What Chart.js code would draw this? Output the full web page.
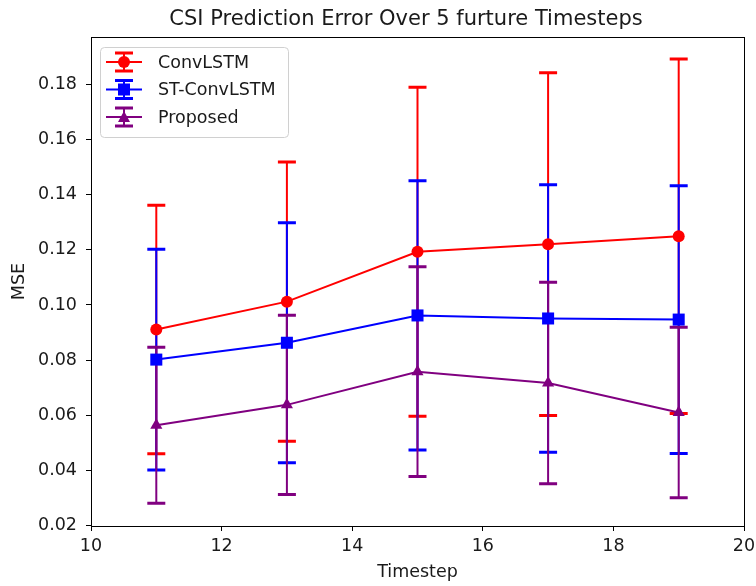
<!DOCTYPE html>
<html>
<head>
<meta charset="utf-8">
<title>CSI Prediction Error</title>
<script src="https://cdn.jsdelivr.net/npm/chart.js@4.4.0/dist/chart.umd.min.js"></script>
<style>
  body { margin: 0; background: #fff; }
  canvas { display: block; }
</style>
</head>
<body>
<canvas id="grafica" width="756" height="586"></canvas>
<script>
const timesteps = [11, 13, 15, 17, 19];
const convLstm = [0.0911, 0.1012, 0.1193, 0.1220, 0.1249];
const convLstmErr = [0.0450, 0.0506, 0.0596, 0.0621, 0.0642];
const stConvLstm = [0.0802, 0.0863, 0.0962, 0.0951, 0.0947];
const stConvLstmErr = [0.0400, 0.0435, 0.0488, 0.0485, 0.0485];
const proposed = [0.0564, 0.0638, 0.0758, 0.0717, 0.0610];
const proposedErr = [0.0283, 0.0325, 0.0380, 0.0365, 0.0309];
const xTicks = [10, 12, 14, 16, 18, 20];
const yTicks = [0.02, 0.04, 0.06, 0.08, 0.10, 0.12, 0.14, 0.16, 0.18];
const titulo = "CSI Prediction Error Over 5 furture Timesteps";

const fuente = "DejaVu Sans";
Chart.defaults.font.family = fuente;
Chart.defaults.color = "#1a1a1a";

function serie(label, valores, errores, color, marcador, radio) {
  return {
    label,
    data: timesteps.map((t, i) => ({ x: t, y: valores[i] })),
    errores,
    borderColor: color,
    backgroundColor: color,
    borderWidth: 2,
    tension: 0,
    pointStyle: marcador,
    pointRadius: radio,
    pointHoverRadius: radio,
    pointBorderWidth: 0,
    pointBackgroundColor: color,
    fill: false
  };
}

// barras de error debajo de las lineas, en el orden de las series
const barrasError = {
  id: "barrasError",
  beforeDatasetsDraw(chart) {
    const ctx = chart.ctx;
    const sx = chart.scales.x;
    const sy = chart.scales.y;
    chart.data.datasets.forEach(ds => {
      ctx.save();
      ctx.strokeStyle = ds.borderColor;
      ds.data.forEach((p, i) => {
        const px = sx.getPixelForValue(p.x);
        const arriba = sy.getPixelForValue(p.y + ds.errores[i]);
        const abajo = sy.getPixelForValue(p.y - ds.errores[i]);
        ctx.lineWidth = 2;
        ctx.beginPath();
        ctx.moveTo(px, arriba);
        ctx.lineTo(px, abajo);
        ctx.stroke();
        ctx.lineWidth = 3;
        ctx.beginPath();
        ctx.moveTo(px - 9, arriba);
        ctx.lineTo(px + 9, arriba);
        ctx.moveTo(px - 9, abajo);
        ctx.lineTo(px + 9, abajo);
        ctx.stroke();
      });
      ctx.restore();
    });
  }
};

function dibujarMarcador(ctx, estilo, x, y) {
  ctx.beginPath();
  if (estilo === "circle") {
    ctx.arc(x, y, 6, 0, Math.PI * 2);
  } else if (estilo === "rect") {
    ctx.rect(x - 6, y - 6, 12, 12);
  } else {
    ctx.moveTo(x, y - 6);
    ctx.lineTo(x + 6, y + 5);
    ctx.lineTo(x - 6, y + 5);
    ctx.closePath();
  }
  ctx.fill();
}

// marco, titulo y leyenda al estilo matplotlib
const adornos = {
  id: "adornos",
  afterDraw(chart) {
    const ctx = chart.ctx;
    const area = chart.chartArea;
    ctx.save();
    ctx.strokeStyle = "#000";
    ctx.lineWidth = 1;
    ctx.strokeRect(Math.round(area.left) + 0.5, Math.round(area.top) + 0.5,
      Math.round(area.right - area.left), Math.round(area.bottom - area.top));

    ctx.fillStyle = "#1a1a1a";
    ctx.font = "21px '" + fuente + "'";
    ctx.textAlign = "center";
    ctx.textBaseline = "alphabetic";
    ctx.fillText(titulo, 406, 25);

    const lx = area.left + 9, ly = area.top + 10;
    ctx.fillStyle = "rgba(255,255,255,0.8)";
    ctx.strokeStyle = "#d0d0d0";
    ctx.beginPath();
    ctx.roundRect(lx + 0.5, ly + 0.5, 188, 90, 4);
    ctx.fill();
    ctx.stroke();

    ctx.font = "17.5px '" + fuente + "'";
    ctx.textAlign = "left";
    ctx.textBaseline = "middle";
    chart.data.datasets.forEach((ds, i) => {
      const cy = ly + 15 + i * 27.5;
      const cx = lx + 24;
      ctx.strokeStyle = ds.borderColor;
      ctx.fillStyle = ds.borderColor;
      ctx.lineWidth = 2;
      ctx.beginPath();
      ctx.moveTo(cx - 18, cy);
      ctx.lineTo(cx + 18, cy);
      ctx.moveTo(cx, cy - 9);
      ctx.lineTo(cx, cy + 9);
      ctx.stroke();
      ctx.lineWidth = 3;
      ctx.beginPath();
      ctx.moveTo(cx - 9, cy - 9);
      ctx.lineTo(cx + 9, cy - 9);
      ctx.moveTo(cx - 9, cy + 9);
      ctx.lineTo(cx + 9, cy + 9);
      ctx.stroke();
      dibujarMarcador(ctx, ds.pointStyle, cx, cy);
      ctx.fillStyle = "#1a1a1a";
      ctx.fillText(ds.label, lx + 58, cy + 1);
    });
    ctx.restore();
  }
};

const tickFont = { family: fuente, size: 17.5 };
const rejilla = { display: true, drawOnChartArea: false, drawTicks: true, tickLength: 5, color: "#000", lineWidth: 1 };
const borde = { display: true, color: "#000", width: 1 };

new Chart(document.getElementById("grafica").getContext("2d"), {
  type: "line",
  data: {
    datasets: [
      serie("ConvLSTM", convLstm, convLstmErr, "#ff0000", "circle", 6),
      serie("ST-ConvLSTM", stConvLstm, stConvLstmErr, "#0000ff", "rect", 8.5),
      serie("Proposed", proposed, proposedErr, "#800080", "triangle", 7)
    ]
  },
  options: {
    responsive: false,
    animation: false,
    layout: { padding: { top: 37, right: 12, left: 0, bottom: 0 } },
    plugins: {
      legend: { display: false },
      tooltip: { enabled: false },
      title: { display: false }
    },
    scales: {
      x: {
        type: "linear",
        position: "bottom",
        min: 10,
        max: 20,
        afterBuildTicks: s => { s.ticks = xTicks.map(v => ({ value: v })); },
        afterFit: s => { s.height = 60; s.paddingLeft = 0; s.paddingRight = 0; },
        ticks: { font: tickFont, padding: 5, maxRotation: 0, callback: v => String(v) },
        grid: rejilla,
        border: borde,
        title: { display: true, text: "Timestep", font: tickFont, padding: { top: 0, bottom: 3.5 } }
      },
      y: {
        type: "linear",
        min: 0.0199,
        max: 0.1971,
        afterBuildTicks: s => { s.ticks = yTicks.map(v => ({ value: v })); },
        afterFit: s => { s.width = 91; s.paddingTop = 0; s.paddingBottom = 0; },
        ticks: { font: tickFont, padding: 9, callback: v => v.toFixed(2) },
        grid: rejilla,
        border: borde,
        title: { display: true, text: "MSE", font: tickFont, padding: { top: 8.5, bottom: 0 } }
      }
    }
  },
  plugins: [barrasError, adornos]
});
</script>
</body>
</html>
